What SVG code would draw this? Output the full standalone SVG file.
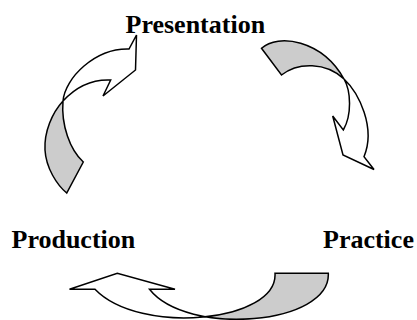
<svg xmlns="http://www.w3.org/2000/svg" xmlns:xlink="http://www.w3.org/1999/xlink" width="417" height="320" viewBox="0 0 417 320">
  <style>
    .label { font-family: "Liberation Serif", "Times New Roman", serif; font-weight: bold; font-size: 26px; fill: #000; }
    .face { fill: #ffffff; stroke: none; }
    .back { fill: #cccccc; stroke: none; }
    .edge { fill: none; stroke: #000000; stroke-width: 1.5; stroke-linejoin: miter; }
  </style>
  <defs>
    <path id="arrowTop" d="M 66.7,193 C 57,185 46,168 45,150 C 44,132 52,113 63,101 C 74,89 90,79 110.7,80 L 103,96 L 135.5,70 L 136.5,35 L 129,49 C 95,48 65,78 63,101 C 61,125 70,150 83.3,162 Z"/>
    <path id="arrowRight" d="M 261.5,48.3 C 278,33 322,40 344,79 C 351,91 352,115 343.3,130 L 332.7,116 L 343,155 L 374,169.5 L 364,156.7 C 376,128 359,93 344,79 C 326,62 298,62 281.5,75 Z"/>
    <path id="arrowBottom" d="M 95,289.3 C 140,336 278,322 275,273.3 L 328.3,273.3 C 331,325 187,337 149.5,289.3 L 175,289.3 L 117.3,273.3 L 69.5,289.3 Z"/>
    <clipPath id="clipTop"><rect x="0" y="101" width="160" height="110"/></clipPath>
    <clipPath id="clipRight"><polygon points="0,0 423,0 0,423"/></clipPath>
    <clipPath id="clipBottom"><rect x="207" y="250" width="160" height="80"/></clipPath>
  </defs>
  <rect x="0" y="0" width="417" height="320" fill="#ffffff"/>
  <g id="connectors">
    <g id="arrow-production-presentation">
      <use xlink:href="#arrowTop" class="face"/>
      <use xlink:href="#arrowTop" class="back" clip-path="url(#clipTop)"/>
      <use xlink:href="#arrowTop" class="edge"/>
    </g>
    <g id="arrow-presentation-practice">
      <use xlink:href="#arrowRight" class="face"/>
      <use xlink:href="#arrowRight" class="back" clip-path="url(#clipRight)"/>
      <use xlink:href="#arrowRight" class="edge"/>
    </g>
    <g id="arrow-practice-production">
      <use xlink:href="#arrowBottom" class="face"/>
      <use xlink:href="#arrowBottom" class="back" clip-path="url(#clipBottom)"/>
      <use xlink:href="#arrowBottom" class="edge"/>
    </g>
  </g>
  <g id="node-presentation">
    <text class="label" x="125.5" y="33">Presentation</text>
  </g>
  <g id="node-production">
    <text class="label" x="11.5" y="248">Production</text>
  </g>
  <g id="node-practice">
    <text class="label" x="323" y="248">Practice</text>
  </g>
</svg>
